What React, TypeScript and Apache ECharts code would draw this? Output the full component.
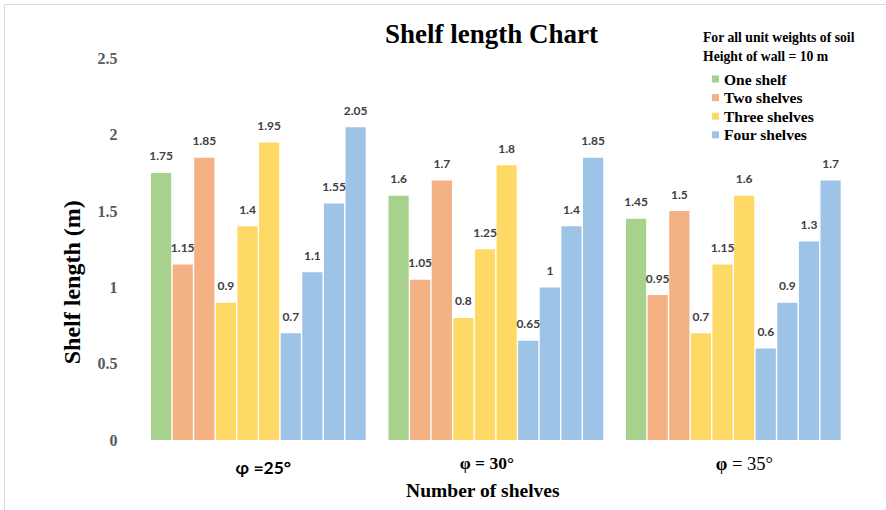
import React, { useEffect, useRef } from "react";
import * as echarts from "echarts";

// Friction angle groups on the x axis
const categories = ["φ =25°", "φ = 30°", "φ = 35°"];

// Shelf arrangements (legend entries) and their colours
const shelfTypes = ["One shelf", "Two shelves", "Three shelves", "Four shelves"];
const shelfColors = ["#A9D18E", "#F4B183", "#FFD966", "#9DC3E6"];

// Shelf lengths (m), one array per bar position inside each group
const oneShelf = [1.75, 1.6, 1.45];
const twoShelves1 = [1.15, 1.05, 0.95];
const twoShelves2 = [1.85, 1.7, 1.5];
const threeShelves1 = [0.9, 0.8, 0.7];
const threeShelves2 = [1.4, 1.25, 1.15];
const threeShelves3 = [1.95, 1.8, 1.6];
const fourShelves1 = [0.7, 0.65, 0.6];
const fourShelves2 = [1.1, 1.0, 0.9];
const fourShelves3 = [1.55, 1.4, 1.3];
const fourShelves4 = [2.05, 1.85, 1.7];

// Each bar series with the index of the shelf type it belongs to
const barSeries: { type: number; data: number[] }[] = [
  { type: 0, data: oneShelf },
  { type: 1, data: twoShelves1 },
  { type: 1, data: twoShelves2 },
  { type: 2, data: threeShelves1 },
  { type: 2, data: threeShelves2 },
  { type: 2, data: threeShelves3 },
  { type: 3, data: fourShelves1 },
  { type: 3, data: fourShelves2 },
  { type: 3, data: fourShelves3 },
  { type: 3, data: fourShelves4 },
];

const yTicks = { min: 0, max: 2.5, interval: 0.5 };

const SERIF = "'Liberation Serif', 'Times New Roman', serif";
const SANS = "Lato, 'Open Sans', sans-serif";

export default function App() {
  const ref = useRef<HTMLDivElement>(null);

  useEffect(() => {
    if (!ref.current) return;
    const chart = echarts.init(ref.current, undefined, { renderer: "svg" });

    const series = barSeries.map((s) => ({
      type: "bar",
      name: shelfTypes[s.type],
      data: s.data,
      barGap: "7%",
      barCategoryGap: "9.6%",
      itemStyle: { color: shelfColors[s.type] },
      label: {
        show: true,
        position: "top",
        distance: 11,
        color: "#404040",
        fontFamily: SANS,
        fontWeight: "bold",
        fontSize: 12,
      },
    }));

    chart.setOption({
      animation: false,
      backgroundColor: "#ffffff",
      title: [
        {
          text: "Shelf length Chart",
          left: 380,
          top: 15,
          textStyle: {
            fontFamily: SERIF,
            fontWeight: "bold",
            fontSize: 27,
            color: "#000000",
          },
        },
        {
          text: "For all unit weights of soil\nHeight of wall = 10 m",
          left: 698,
          top: 23,
          textStyle: {
            fontFamily: SERIF,
            fontWeight: "bold",
            fontSize: 13.7,
            lineHeight: 19,
            color: "#000000",
          },
        },
      ],
      legend: {
        data: shelfTypes,
        orient: "vertical",
        left: 707,
        top: 66,
        icon: "rect",
        itemWidth: 7,
        itemHeight: 7,
        itemGap: 2.6,
        textStyle: {
          fontFamily: SERIF,
          fontWeight: "bold",
          fontSize: 15.5,
          lineHeight: 14,
          color: "#000000",
        },
      },
      grid: {
        left: 139.6,
        right: 33.9,
        top: 58.5,
        bottom: 70,
        containLabel: false,
        outerBoundsMode: "none",
      },
      xAxis: {
        type: "category",
        data: categories,
        name: "Number of shelves",
        nameLocation: "middle",
        nameGap: 38,
        nameTextStyle: {
          fontFamily: SERIF,
          fontWeight: "bold",
          fontSize: 19.5,
          color: "#000000",
          padding: [0, 26, 0, 0],
        },
        axisLine: { show: false },
        axisTick: { show: false },
        axisLabel: {
          margin: 14,
          formatter: (_v: string, i: number) =>
            i === 0
              ? `{a|${categories[0]}}`
              : i === 1
              ? `{b|${categories[1]}}`
              : `{cphi|${categories[2].slice(0, 1)}}{c|${categories[2].slice(1)}}`,
          rich: {
            a: {
              fontFamily: SANS,
              fontWeight: "bold",
              fontSize: 17.5,
              color: "#000000",
              padding: [4, 0, 0, 10],
            },
            b: {
              fontFamily: SERIF,
              fontWeight: "bold",
              fontSize: 17.5,
              color: "#000000",
              padding: [0, 18, 0, 0],
            },
            cphi: {
              fontFamily: SERIF,
              fontWeight: "bold",
              fontSize: 18.5,
              color: "#000000",
              padding: [0, 0, 0, 22],
            },
            c: {
              fontFamily: SERIF,
              fontSize: 18.5,
              color: "#000000",
            },
          },
        },
      },
      yAxis: {
        type: "value",
        min: yTicks.min,
        max: yTicks.max,
        interval: yTicks.interval,
        name: "Shelf length (m)",
        nameLocation: "middle",
        nameGap: 56,
        nameTextStyle: {
          fontFamily: SERIF,
          fontWeight: "bold",
          fontSize: 24,
          color: "#000000",
          padding: [0, 66, 0, 0],
        },
        axisLine: { show: false },
        axisTick: { show: false },
        splitLine: { show: false },
        axisLabel: {
          margin: 22,
          fontFamily: SERIF,
          fontWeight: "bold",
          fontSize: 16,
          color: "#595959",
        },
      },
      graphic: [
        {
          type: "rect",
          silent: true,
          shape: { x: 4.5, y: 4.5, width: 900, height: 600 },
          style: { fill: "none", stroke: "#d9d9d9", lineWidth: 1 },
        },
      ],
      series,
    });

    return () => chart.dispose();
  }, []);

  return (
    <div
      ref={ref}
      style={{ position: "fixed", left: 0, top: 0, width: 886, height: 510 }}
    />
  );
}
